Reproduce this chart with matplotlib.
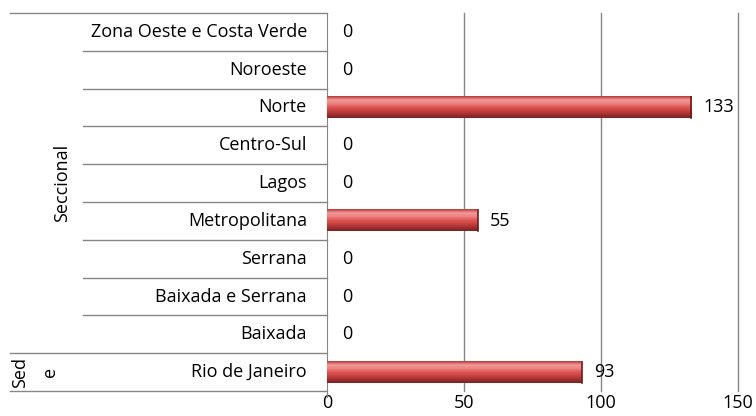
import numpy as np
import matplotlib
matplotlib.use('Agg')
import matplotlib.pyplot as plt
import matplotlib.transforms as mtransforms
from matplotlib.colors import LinearSegmentedColormap

# data (bottom to top)
categories = ['Rio de Janeiro', 'Baixada', 'Baixada e Serrana', 'Serrana', 'Metropolitana',
              'Lagos', 'Centro-Sul', 'Norte', 'Noroeste', 'Zona Oeste e Costa Verde']
values = [93, 0, 0, 0, 55, 0, 0, 133, 0, 0]
groups = [('Sed\ne', 0, 0), ('Seccional', 1, 9)]
xticks = [0, 50, 100, 150]

plt.rcParams['font.family'] = ['Open Sans', 'DejaVu Sans']
fs = 13

fig = plt.figure(figsize=(7.56, 4.16), dpi=100)
ax = fig.add_axes([327 / 756, 1 - 391 / 416, (738 - 327) / 756, (391 - 13) / 416])

n = len(categories)
ypos = np.arange(n)
bar_h = 0.56

# red cylinder-like gradient (bottom -> top)
cmap = LinearSegmentedColormap.from_list('cyl', ['#7e2020', '#a33131', '#c94341', '#dc5755', '#ee8381', '#f29896', '#b53a38'])
grad = np.linspace(0, 1, 64).reshape(-1, 1)
for y, v in zip(ypos, values):
    if v > 0:
        ax.imshow(grad, cmap=cmap, aspect='auto', origin='lower',
                  extent=[0, v, y - bar_h / 2, y + bar_h / 2], zorder=3)
        ax.plot([v, v], [y - bar_h / 2, y + bar_h / 2], color='#6e1a1a', lw=1.2, zorder=4)
    ax.text(v + (4.5 if v > 0 else 5.5), y, str(v), va='center', ha='left', fontsize=fs)

ax.set_xlim(0, 150)
ax.set_ylim(-0.5, n - 0.5)
ax.set_xticks(xticks)
ax.set_xticklabels([str(t) for t in xticks], fontsize=fs)
ax.tick_params(axis='x', length=0, pad=2)
ax.set_yticks([])
for s in ['top', 'right', 'bottom']:
    ax.spines[s].set_visible(False)
ax.spines['left'].set_color('#868686')
ax.spines['left'].set_bounds(-0.65, n - 0.5)
for t in xticks[1:]:
    ax.axvline(t, color='#868686', lw=1, zorder=1, clip_on=False)

# hierarchical category axis
tr = mtransforms.blended_transform_factory(fig.transFigure, ax.transData)
x_axis = 327 / 756
x_inner = 83 / 756
x_outer = 10 / 756
for y, c in zip(ypos, categories):
    ax.text(307 / 756, y, c, transform=tr, ha='right', va='center', fontsize=fs)

for b in np.arange(n + 1) - 0.5:
    outer = b in (-0.5, 0.5, n - 0.5)
    x0 = x_outer if outer else x_inner
    ax.plot([x0, x_axis], [b, b], transform=tr, color='#868686', lw=1, clip_on=False)

for label, a, b in groups:
    ax.text(62 / 756 if label == 'Seccional' else 35 / 756, (a + b) / 2, label, transform=tr,
            rotation=90, ha='center', va='center', fontsize=fs, linespacing=1.9)

fig.savefig('out.png', dpi=100)
